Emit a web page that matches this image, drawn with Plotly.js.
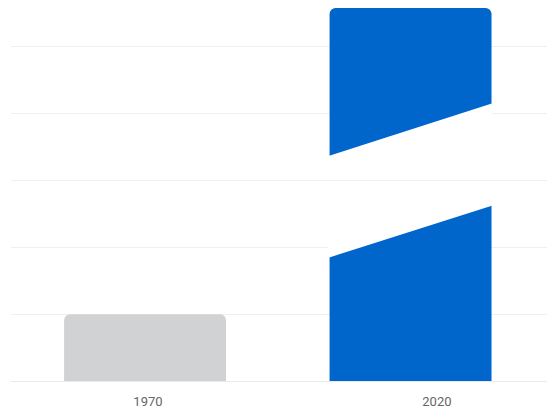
<!DOCTYPE html>
<html>
<head>
<meta charset="utf-8">
<script src="https://cdn.plot.ly/plotly-3.0.1.min.js"></script>
<style>html,body{margin:0;padding:0;background:#fff;}#chart{width:547px;height:410px;}</style>
</head>
<body>
<div id="chart"></div>
<script>
// Data
const categories = ["1970", "2020"];
const values = [1.0, 5.58];
const barColors = ["#d1d2d4", "#0066cc"];
// Axis break on the 2020 bar (value units): lower edge left/right, upper edge left/right
const breakLower = [1.85, 2.62];
const breakUpper = [3.37, 4.15];
const gridValues = [0, 1, 2, 3, 4, 5];

const barWidth = 0.61;
const bi = 1; // index of broken bar
const pad = 0.004;
const x0 = bi - barWidth / 2 - pad, x1 = bi + barWidth / 2 + pad;
const xl = bi - barWidth / 2, xr = bi + barWidth / 2;
const slopeL = (breakLower[1] - breakLower[0]) / (xr - xl);
const slopeU = (breakUpper[1] - breakUpper[0]) / (xr - xl);
const lo0 = breakLower[0] - slopeL * (xl - x0), lo1 = breakLower[1] + slopeL * (x1 - xr);
const up0 = breakUpper[0] - slopeU * (xl - x0), up1 = breakUpper[1] + slopeU * (x1 - xr);

const shapes = [{
  type: "path", xref: "x", yref: "y", layer: "above",
  path: `M ${x0} ${lo0} L ${x1} ${lo1} L ${x1} ${up1} L ${x0} ${up0} Z`,
  fillcolor: "#ffffff", line: {width: 0}
}];
gridValues.forEach(g => {
  if (g > Math.max(lo0, lo1) && g < Math.min(up0, up1)) {
    shapes.push({type: "line", xref: "x", yref: "y", layer: "above",
      x0: x0, x1: x1, y0: g, y1: g, line: {color: "#efefef", width: 1}});
  }
});

const trace = {
  type: "bar",
  x: categories,
  y: values,
  width: categories.map(() => barWidth),
  marker: {color: barColors, line: {width: 0}},
  hoverinfo: "none"
};
// carrier for the label axis (no visible marks)
const labelTrace = {
  type: "scatter", mode: "markers",
  x: categories.map((c, i) => i), y: categories.map(() => null),
  xaxis: "x2", yaxis: "y", hoverinfo: "none", showlegend: false
};

const layout = {
  width: 547, height: 410,
  margin: {l: 11, r: 0, t: 8, b: 29},
  paper_bgcolor: "#ffffff", plot_bgcolor: "#ffffff",
  showlegend: false,
  barcornerradius: 6,
  font: {family: "Roboto, 'Open Sans', sans-serif", color: "#666666", size: 13},
  xaxis: {
    type: "category", range: [-0.505, 1.514],
    showgrid: false, zeroline: false, showline: false, ticks: "",
    showticklabels: false
  },
  xaxis2: {
    type: "linear", overlaying: "x", side: "bottom", range: [-0.474, 1.381],
    tickvals: categories.map((c, i) => i), ticktext: categories,
    showgrid: false, zeroline: false, showline: false, ticks: "",
    ticklabelstandoff: 11,
    tickfont: {size: 13, color: "#666666"}
  },
  yaxis: {
    range: [0, 5.58], tickvals: gridValues, showticklabels: false,
    showgrid: true, gridcolor: "#efefef", gridwidth: 1,
    zeroline: true, zerolinecolor: "#eaeaea", zerolinewidth: 1,
    showline: false, ticks: ""
  },
  shapes: shapes
};

Plotly.newPlot("chart", [trace, labelTrace], layout, {displayModeBar: false, staticPlot: true});
</script>
</body>
</html>
